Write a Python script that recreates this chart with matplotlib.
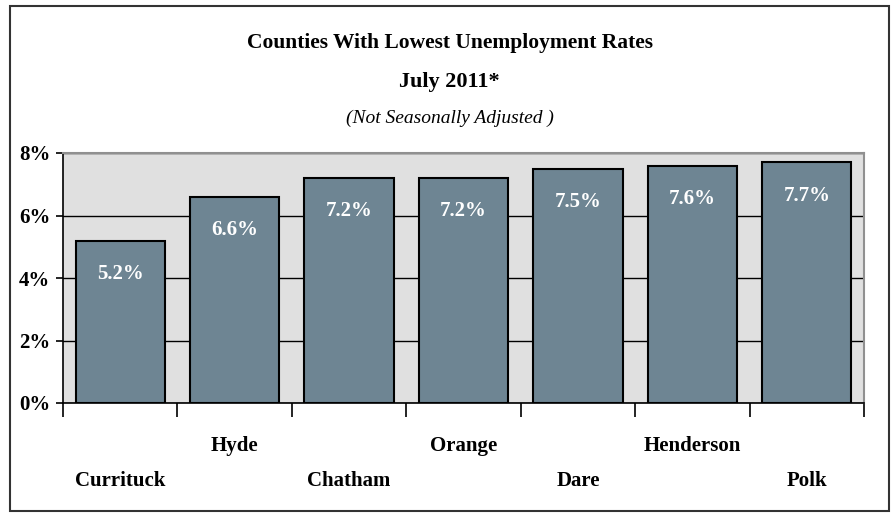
import matplotlib
matplotlib.use("Agg")
import matplotlib.pyplot as plt
from matplotlib.patches import Rectangle
from matplotlib.ticker import FixedLocator, FuncFormatter

counties = ["Currituck", "Hyde", "Chatham", "Orange", "Dare", "Henderson", "Polk"]
rates = [5.2, 6.6, 7.2, 7.2, 7.5, 7.6, 7.7]
y_ticks = [0, 2, 4, 6, 8]
title_lines = ["Counties With Lowest Unemployment Rates", "July 2011*"]
subtitle = "(Not Seasonally Adjusted )"

W, H = 893, 513
fig = plt.figure(figsize=(W / 100, H / 100), dpi=100)
fig.patch.set_facecolor("white")
serif = ["Liberation Serif", "DejaVu Serif"]

# outer frame
def px(x0, y0):
    return x0 / W, 1 - y0 / H
fx0, fy1 = px(10, 6)
fx1, fy0 = px(889, 511)
fig.patches.append(Rectangle((fx0, fy0), fx1 - fx0, fy1 - fy0, transform=fig.transFigure,
                             fill=False, edgecolor="#333333", linewidth=1.5))

ax = fig.add_axes([63 / W, 110 / H, (864 - 63) / W, 250 / H])
ax.set_facecolor("#e0e0e0")
x = list(range(len(counties)))
bars = ax.bar(x, rates, width=0.78, color="#6e8593", edgecolor="black", linewidth=1.5, zorder=3)
ax.set_xlim(-0.5, len(counties) - 0.5)
ax.set_ylim(0, 8)
ax.set_yticks(y_ticks)
ax.yaxis.set_major_formatter(FuncFormatter(lambda v, p: f"{v:.0f}%"))
ax.grid(axis="y", color="black", linewidth=1.0, zorder=1)
ax.set_axisbelow(True)

for s in ["left", "bottom"]:
    ax.spines[s].set_color("black")
    ax.spines[s].set_linewidth(1.2)
for s in ["top", "right"]:
    ax.spines[s].set_color("#909090")
    ax.spines[s].set_linewidth(1.5)

ax.tick_params(axis="y", length=5, width=1.2, direction="out", pad=4)
for t in ax.get_yticklabels():
    t.set_fontfamily(serif)
    t.set_fontweight("bold")
    t.set_fontsize(15)

ax.set_xticks(x)
ax.set_xticklabels([("\n" + c) if i % 2 == 0 else c for i, c in enumerate(counties)])
ax.tick_params(axis="x", which="major", length=0, pad=24)
ax.xaxis.set_minor_locator(FixedLocator([i + 0.5 for i in range(-1, len(counties))]))
ax.tick_params(axis="x", which="minor", length=10, width=1.2, direction="out")
for t in ax.get_xticklabels():
    t.set_fontfamily(serif)
    t.set_fontweight("bold")
    t.set_fontsize(15)
    t.set_linespacing(2.0)
    t.set_verticalalignment("top")

for b, v in zip(bars, rates):
    ax.annotate(f"{v:.1f}%", (b.get_x() + b.get_width() / 2, v), xytext=(0, -24),
                textcoords="offset points", ha="center", va="center", color="white",
                fontfamily=serif, fontweight="bold", fontsize=15, zorder=4)

cx = (10 + 889) / 2 / W
fig.text(cx, 1 - 43 / H, title_lines[0], ha="center", va="center", fontfamily=serif,
         fontweight="bold", fontsize=15.5)
fig.text(cx, 1 - 82 / H, title_lines[1], ha="center", va="center", fontfamily=serif,
         fontweight="bold", fontsize=16)
fig.text(cx, 1 - 118 / H, subtitle, ha="center", va="center", fontfamily=serif,
         fontstyle="italic", fontsize=14)

fig.savefig("out.png", dpi=100)
